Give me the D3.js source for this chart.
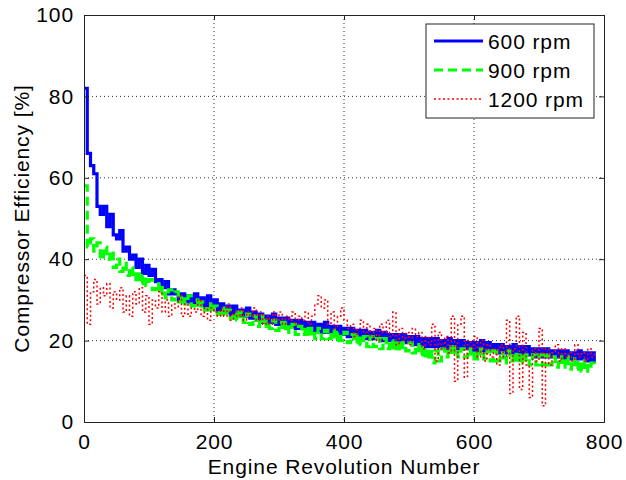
<!DOCTYPE html>
<html><head><meta charset="utf-8">
<script src="https://cdn.jsdelivr.net/npm/d3@7"></script>
<style>
body{margin:0;background:#fff;}
text{font-family:"Liberation Sans",Arial,sans-serif;fill:#000;}
</style></head>
<body><svg id="c" width="626" height="480"></svg>
<script>
const revStep = 5;
const xTicks = [0, 200, 400, 600, 800];
const yTicks = [0, 20, 40, 60, 80, 100];
const seriesNames = ["600 rpm", "900 rpm", "1200 rpm"];

const rpm600 = [
82,66,63,61,53,51,53,48,51,46,45,47,42,43,40,41,38,40,36.5,38.5,
36,37.5,34.5,35,33,34.5,31.5,32.5,31.5,30,31.5,29.5,31,29,31.5,29,30.5,28.5,31,28.5,
30,27.5,29,27,28.5,26.5,28.5,26,27.5,26,28,25.5,27,25,26.5,24.5,26,24.5,26.5,24,
25.5,23.5,25.5,23.5,25,23,25,23,24.5,22.5,24.5,22.5,24,22,24.5,22,23.5,21.5,23.5,21.5,
23,21,23,21,22.5,20.5,22.5,20.5,22,20.5,22.5,20,22,20,21.5,19.5,21.5,19.5,21.5,19.5,
21,19,21,19,20.5,18.5,20.5,18.5,20.5,18.5,20,18,20.5,18.5,20,18,20,18,19.5,17.5,
19.5,17.5,20,17.5,19.5,17.5,19,17,19,17,18.5,17,19,16.5,18.5,16.5,18.5,16.5,18,16,
18,16,18,16,17.5,16,17.5,15.5,17.5,15.5,17,15.5,17.5,15.5,17,15,17,14.5];

const rpm900 = [
58,43,45,42,44,40,43,40,42,38,40,37,39,36,38,35,37,34,36,33.5,
35,32.5,34,31.5,33,30.5,32.5,30,32,29.5,31,29,31,28.5,30,28,29.5,27.5,29,27,
28.5,26.5,28,26,27.5,25.5,27,25,27,24.5,26.5,24,26,23.5,26,23.5,25,23,25,22.5,
24.5,22.5,24.5,22,24,21.5,23.5,21.5,23.5,21,23,20.5,23,20.5,22.5,20.5,22.5,20,22,20,
22,19.5,21.5,19.5,21.5,19,21,18.5,21,18.5,20.5,18,20.5,18,20,17.5,20,17.5,19.5,17.5,
19.5,17,19,16.5,18.5,15.5,18,14.5,17.5,15,18,16,18.5,16.5,18.5,16,18,16,18,15.5,
17.5,15.5,18,15.5,17.5,15,17.5,15,17,14.5,17.5,15,17,14.5,17,14.5,16.5,14,16.5,14,
16.5,14,16.5,14,16,13.5,16,13.5,16,13,15.5,13,15,12.5,15,12.5,14.5,13];

const rpm1200 = [
36,24,32,35,29,33,31,34,28,32,30,33,27,31,26,32,29,33,27,31,
24,30,28,32,27,30,26,29,28,31,26,29,26,28,27,30,26,28,25,28,
27,26,28,26,29,25,27,26,28,25,27,26,28,25,27,24,26,24,27,25,
27,24,26,25,27,24,26,25,27,24,26,29,31,28,30,24,27,23,26,28,
25,23,24,21,23,25,22,24,21,23,20,24,22,25,21,27,19,23,20,22,
19,23,21,22,18,21,19,24,15,22,18,21,17,26,10,24,26,11,20,18,
21,16,20,15,19,16,18,14,19,16,25,7,18,26,8,22,14,6,18,15,
23,4,18,14,17,19,15,18,16,17,15,19,16,17,15,18,16,17];

const svg = d3.select("#c");
const m = {l:84, t:15, r:604, b:422};
const x = d3.scaleLinear().domain([0, 800]).range([m.l, m.r]);
const y = d3.scaleLinear().domain([0, 100]).range([m.b, m.t]);
const font = {size:"21px", ls:"0.9px"};

// grid
const g = svg.append("g");
g.selectAll("line.gx").data(xTicks.slice(1, -1)).enter().append("line")
  .attr("x1", d=>x(d)).attr("x2", d=>x(d)).attr("y1", m.t).attr("y2", m.b)
  .attr("stroke", "#333").attr("stroke-width", 1).attr("stroke-dasharray", "1,3");
g.selectAll("line.gy").data(yTicks.slice(1, -1)).enter().append("line")
  .attr("y1", d=>y(d)).attr("y2", d=>y(d)).attr("x1", m.l).attr("x2", m.r)
  .attr("stroke", "#333").attr("stroke-width", 1).attr("stroke-dasharray", "1,3");

// series
const mk = arr => arr.map((v, i) => [i * revStep, v]);
const line = d3.line().x(d=>x(d[0])).y(d=>y(d[1])).curve(d3.curveStepAfter);
const styles = [
  {data: rpm600, color:"#0000ff", w:3.2, dash:null},
  {data: rpm900, color:"#00ff00", w:3.2, dash:"9,5"},
  {data: rpm1200, color:"#ff0000", w:1.5, dash:"2,2.5"}
];
svg.append("clipPath").attr("id","cp").append("rect")
  .attr("x", m.l).attr("y", m.t).attr("width", m.r-m.l).attr("height", m.b-m.t);
styles.forEach(s => {
  svg.append("path").datum(mk(s.data)).attr("d", line)
    .attr("fill","none").attr("stroke", s.color).attr("stroke-width", s.w)
    .attr("stroke-dasharray", s.dash).attr("clip-path","url(#cp)");
});

// axes (ticks inside, mirrored)
const tl = 5;
const axB = d3.axisBottom(x).tickValues(xTicks).tickSize(-tl).tickPadding(12).tickFormat(d3.format("d"));
const axT = d3.axisTop(x).tickValues(xTicks).tickSize(-tl).tickFormat("");
const axL = d3.axisLeft(y).tickValues(yTicks).tickSize(-tl).tickPadding(10).tickFormat(d3.format("d"));
const axR = d3.axisRight(y).tickValues(yTicks).tickSize(-tl).tickFormat("");
[[axB, `translate(0,${m.b})`],[axT, `translate(0,${m.t})`],[axL, `translate(${m.l},0)`],[axR, `translate(${m.r},0)`]].forEach(([a,t]) => {
  const gg = svg.append("g").attr("transform", t).call(a);
  gg.select(".domain").attr("stroke","#222");
  gg.selectAll(".tick line").attr("stroke","#222");
  gg.selectAll("text").style("font-size", font.size).style("letter-spacing", font.ls)
    .style("font-family", '"Liberation Sans",Arial,sans-serif').attr("fill","#000");
});

// labels
svg.append("text").attr("x", (m.l+m.r)/2).attr("y", 474).attr("text-anchor","middle")
  .style("font-size", font.size).style("letter-spacing", font.ls).text("Engine Revolution Number");
svg.append("text").attr("transform", `translate(29,${(m.t+m.b)/2}) rotate(-90)`).attr("text-anchor","middle")
  .style("font-size", font.size).style("letter-spacing", font.ls).text("Compressor Efficiency [%]");

// legend
const lg = svg.append("g");
lg.append("rect").attr("x", 426).attr("y", 24).attr("width", 168).attr("height", 94)
  .attr("fill","#fff").attr("stroke","#222").attr("stroke-width",1);
styles.forEach((s, i) => {
  const yy = 41 + i * 29;
  lg.append("line").attr("x1", 434).attr("x2", 483).attr("y1", yy).attr("y2", yy)
    .attr("stroke", s.color).attr("stroke-width", s.w).attr("stroke-dasharray", s.dash);
  lg.append("text").attr("x", 488).attr("y", yy).attr("dy","0.36em")
    .style("font-size", font.size).style("letter-spacing", font.ls).text(seriesNames[i]);
});
</script></body></html>
